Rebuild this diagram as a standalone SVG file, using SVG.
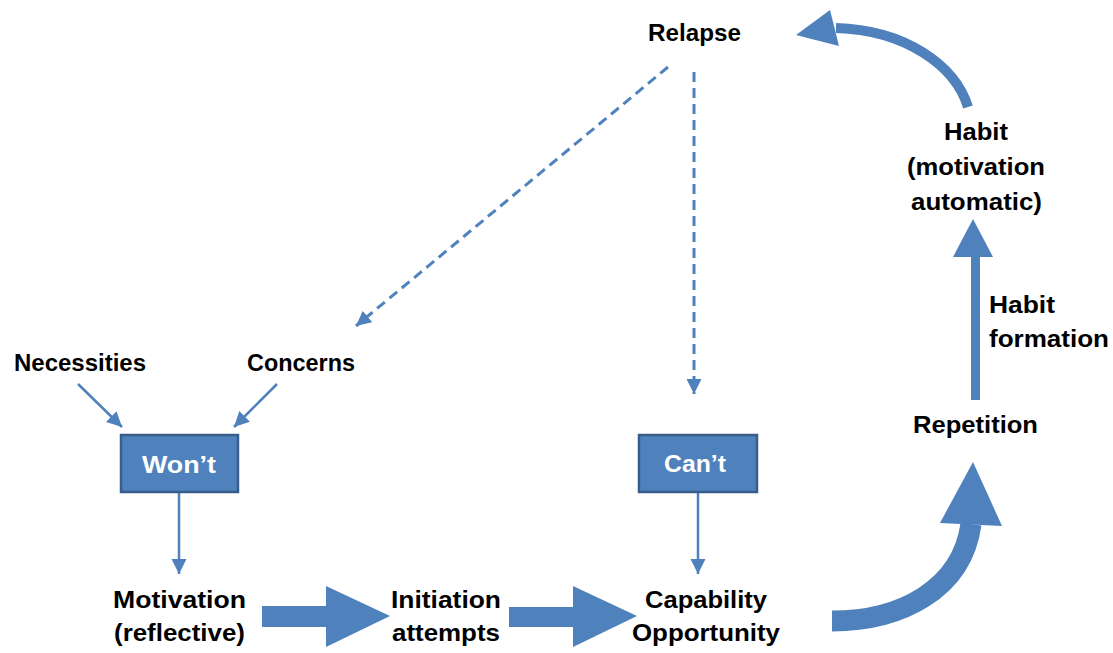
<svg xmlns="http://www.w3.org/2000/svg" width="1113" height="653" viewBox="0 0 1113 653">
<style>
.t{font-family:"Liberation Sans",Arial,sans-serif;font-weight:bold;font-size:23px;fill:#000}
.w{fill:#fff;font-size:24px}
.box{fill:#4F81BD;stroke:#385D8A;stroke-width:2.5}
.thin{fill:none;stroke:#4F81BD;stroke-width:2.5}
.dash{fill:none;stroke:#4F81BD;stroke-width:3;stroke-dasharray:10 6}
.blue{fill:#4F81BD}
</style>
<defs>
<marker id="ah" markerUnits="userSpaceOnUse" markerWidth="17" markerHeight="16" refX="15" refY="7.5" orient="auto" viewBox="0 0 17 16">
<path d="M0,0 L15,7.5 L0,15 z" fill="#4F81BD"/>
</marker>
</defs>
<rect width="1113" height="653" fill="#fff"/>

<g id="connectors">
<line class="thin" x1="78" y1="384" x2="122" y2="427" marker-end="url(#ah)"/>
<line class="thin" x1="277" y1="384" x2="234" y2="427" marker-end="url(#ah)"/>
<line class="thin" x1="179" y1="492" x2="179" y2="574" marker-end="url(#ah)"/>
<line class="thin" x1="698" y1="492" x2="698" y2="574" marker-end="url(#ah)"/>
<line class="dash" x1="668" y1="67" x2="356" y2="326" marker-end="url(#ah)"/>
<line class="dash" x1="694" y1="72" x2="694" y2="394" marker-end="url(#ah)"/>
<polygon class="blue" points="262,606 326,606 326,586 390,616 326,647 326,627 262,627"/>
<polygon class="blue" points="509,607 573,607 573,586 637,616 573,647 573,627 509,627"/>
<path d="M832,621 C900,621 962,590 971,524" fill="none" stroke="#4F81BD" stroke-width="21"/>
<polygon class="blue" points="940,523 1002,526 973,462"/>
<rect class="blue" x="971" y="254" width="9" height="146"/>
<polygon class="blue" points="953,257 993,257 973,219"/>
<path d="M968,107 C955,65 905,30 836,28" fill="none" stroke="#4F81BD" stroke-width="10"/>
<polygon class="blue" points="830,10 839,46 796,35"/>
</g>

<g id="relapse"><text class="t" x="648" y="41" textLength="93" lengthAdjust="spacingAndGlyphs">Relapse</text></g>
<g id="habit">
<text class="t" x="944" y="140" textLength="64" lengthAdjust="spacingAndGlyphs">Habit</text>
<text class="t" x="907" y="175" textLength="138" lengthAdjust="spacingAndGlyphs">(motivation</text>
<text class="t" x="911" y="210" textLength="131" lengthAdjust="spacingAndGlyphs">automatic)</text>
</g>
<g id="habit-formation">
<text class="t" x="989" y="313" textLength="66" lengthAdjust="spacingAndGlyphs">Habit</text>
<text class="t" x="989" y="347" textLength="120" lengthAdjust="spacingAndGlyphs">formation</text>
</g>
<g id="repetition"><text class="t" x="913" y="433" textLength="125" lengthAdjust="spacingAndGlyphs">Repetition</text></g>
<g id="necessities"><text class="t" x="14" y="371" textLength="132" lengthAdjust="spacingAndGlyphs">Necessities</text></g>
<g id="concerns"><text class="t" x="247" y="371" textLength="108" lengthAdjust="spacingAndGlyphs">Concerns</text></g>
<g id="wont">
<rect class="box" x="121" y="435" width="117" height="57"/>
<text class="t w" x="142" y="473" textLength="74" lengthAdjust="spacingAndGlyphs">Won’t</text>
</g>
<g id="cant">
<rect class="box" x="639" y="435" width="118" height="57"/>
<text class="t w" x="664" y="472" textLength="62" lengthAdjust="spacingAndGlyphs">Can’t</text>
</g>
<g id="motivation">
<text class="t" x="113" y="608" textLength="133" lengthAdjust="spacingAndGlyphs">Motivation</text>
<text class="t" x="114" y="641" textLength="131" lengthAdjust="spacingAndGlyphs">(reflective)</text>
</g>
<g id="initiation">
<text class="t" x="391" y="608" textLength="110" lengthAdjust="spacingAndGlyphs">Initiation</text>
<text class="t" x="392" y="641" textLength="108" lengthAdjust="spacingAndGlyphs">attempts</text>
</g>
<g id="capability">
<text class="t" x="645" y="608" textLength="122" lengthAdjust="spacingAndGlyphs">Capability</text>
<text class="t" x="632" y="641" textLength="148" lengthAdjust="spacingAndGlyphs">Opportunity</text>
</g>
</svg>
